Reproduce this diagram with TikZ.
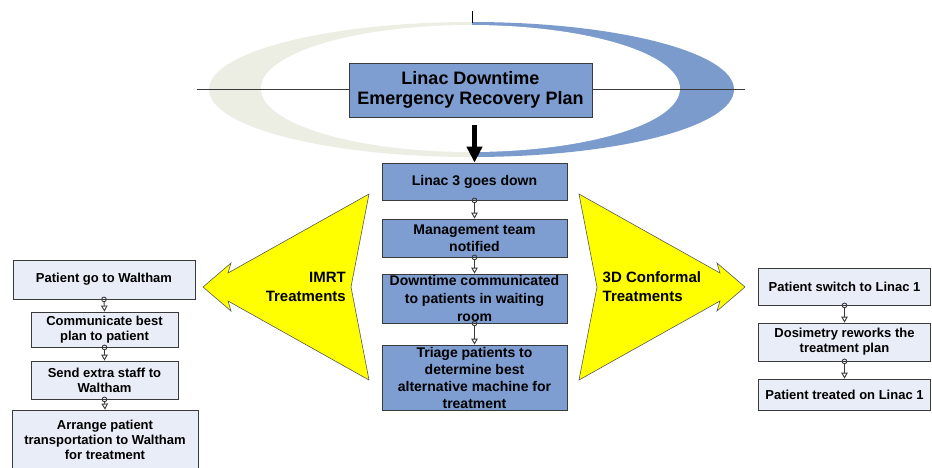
\documentclass[tikz,border=0pt]{standalone}
\usepackage{fontspec}
\setmainfont{Liberation Sans}
\usetikzlibrary{arrows.meta}
\definecolor{boxblue}{HTML}{7E9DD0}
\definecolor{crescblue}{HTML}{7B9BCC}
\definecolor{crescgrey}{HTML}{ECEEE4}
\definecolor{sidefill}{HTML}{E9EDF7}
\definecolor{boxline}{HTML}{3A3A3A}
\definecolor{arrowyellow}{HTML}{FFFF00}
\tikzset{
  mainbox/.style={draw=boxline, line width=0.8pt, fill=boxblue, inner sep=0pt,
    minimum width=185pt, align=center, font=\fontsize{14}{17.5}\selectfont\bfseries},
  titlebox/.style={draw=boxline, line width=0.8pt, fill=boxblue, inner sep=0pt,
    minimum width=243pt, minimum height=54pt, align=center, font=\fontsize{18}{20}\selectfont\bfseries},
  sidebox/.style={draw=boxline, line width=0.8pt, fill=sidefill, inner sep=0pt,
    align=center, font=\fontsize{13}{15}\selectfont\bfseries},
  conn/.style={draw=boxline, line width=0.9pt, shorten <=-2.8pt,
    {Circle[open,length=5.6pt,width=5.6pt]}-{Triangle[open,length=6pt,width=6.5pt]}},
  bigarrow/.style={draw=black, line width=4.5pt, -{Triangle[length=16pt,width=15pt]}},
  yellowarrow/.style={fill=arrowyellow, draw=black!65, line width=0.6pt, line join=miter},
  arrowtext/.style={font=\fontsize{15}{19}\selectfont\bfseries, inner sep=0pt},
}
\begin{document}
\begin{tikzpicture}[x=1pt,y=-1pt]
\useasboundingbox (0,0) rectangle (932,467);
\fill[white] (0,0) rectangle (932,467);
% swoosh ellipse
\begin{scope}
  \clip (0,0) rectangle (472,200);
  \fill[crescgrey] (471.5,89.5) ellipse [x radius=262.5pt, y radius=67.5pt];
\end{scope}
\begin{scope}
  \clip (472,0) rectangle (800,200);
  \fill[crescblue] (471.5,89.5) ellipse [x radius=262.5pt, y radius=67.5pt];
\end{scope}
\fill[white] (470.5,88.5) ellipse [x radius=209.5pt, y radius=63.5pt];
\coordinate (hl) at (196.5,89);
\coordinate (hr) at (745,89);
\draw[boxline, line width=0.7pt] (hl) -- (hr);
\coordinate (tt) at (472,11);
\coordinate (tb) at (472,23);
\draw[black, line width=0.8pt] (tt) -- (tb);
% title
\node[titlebox] (title) at (470.5,90) {Linac Downtime\\Emergency Recovery Plan};
% central boxes
\node[mainbox, minimum height=37pt] (b1) at (474.5,181.5) {Linac 3 goes down};
\node[mainbox, minimum height=38pt] (b2) at (474.5,238) {Management team\\notified};
\node[mainbox, minimum height=49pt, font=\fontsize{14}{18}\selectfont\bfseries] (b3) at (474.5,298.5) {Downtime communicated\\to patients in waiting\\room};
\node[mainbox, minimum height=65pt, font=\fontsize{14}{17}\selectfont\bfseries] (b4) at (474.5,377.5) {Triage patients to\\determine best\\alternative machine for\\treatment};
\draw[bigarrow] ([yshift=-8pt]b1.north |- title.south) -- (b1.north);
\draw[conn] (b1.south) -- (b2.north);
\draw[conn] (b2.south) -- (b3.north);
\draw[conn] (b3.south) -- (b4.north);
% yellow arrows
\draw[yellowarrow] (579,194) -- (720,273) -- (717,263) -- (745,287) -- (717,311) -- (720,301) -- (579,380) -- (597,287) -- cycle;
\draw[yellowarrow] (369,194) -- (228,273) -- (231,263) -- (203,287) -- (231,311) -- (228,301) -- (369,380) -- (351,287) -- cycle;
\node[arrowtext, align=right, anchor=east] (imrt) at (346,286.5) {IMRT\\Treatments};
\node[arrowtext, align=left, anchor=west] (conf) at (602.5,286.5) {3D Conformal\\Treatments};
% left boxes
\node[sidebox, minimum width=182pt, minimum height=39pt] (l1) at (104,279.5) {Patient go to Waltham};
\node[sidebox, minimum width=147pt, minimum height=35pt] (l2) at (104.5,329.5) {Communicate best\\plan to patient};
\node[sidebox, minimum width=147pt, minimum height=38pt] (l3) at (104.5,380) {Send extra staff to\\Waltham};
\node[sidebox, minimum width=186pt, minimum height=60pt] (l4) at (105,440) {Arrange patient\\transportation to Waltham\\for treatment};
\draw[conn] (l1.south) -- (l2.north);
\draw[conn] (l2.south) -- (l3.north);
\draw[conn] (l3.south) -- (l4.north);
% right boxes
\node[sidebox, minimum width=172pt, minimum height=37pt] (r1) at (844.5,286.5) {Patient switch to Linac 1};
\node[sidebox, minimum width=172pt, minimum height=38pt] (r2) at (844.5,342) {Dosimetry reworks the\\treatment plan};
\node[sidebox, minimum width=172pt, minimum height=31pt] (r3) at (844.5,394.5) {Patient treated on Linac 1};
\draw[conn] (r1.south) -- (r2.north);
\draw[conn] (r2.south) -- (r3.north);
\end{tikzpicture}
\end{document}
